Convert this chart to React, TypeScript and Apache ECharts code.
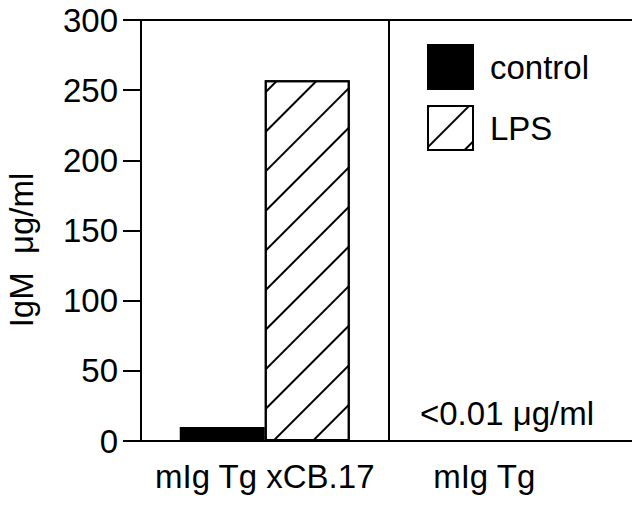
import React, { useEffect, useRef } from "react";
import * as echarts from "echarts";

const categories = ["mIg Tg xCB.17", "mIg Tg"];
const controlValues = [10, null];
const lpsValues = [257, null];
const yTicks = { min: 0, max: 300, interval: 50 };
const yAxisTitle = "IgM  \u03bcg/ml";
const noteText = "<0.01 \u03bcg/ml";

const FONT = "'Liberation Sans', Arial, Helvetica, sans-serif";
const FS = 33;

export default function App() {
  const ref = useRef<HTMLDivElement>(null);
  useEffect(() => {
    if (!ref.current) return;
    const chart = echarts.init(ref.current, null, { renderer: "svg" });
    chart.setOption({
      animation: false,
      backgroundColor: "#fff",
      textStyle: { fontFamily: FONT, color: "#000" },
      grid: {
        left: 141,
        right: 4,
        top: 20,
        bottom: 66,
        show: true,
        borderColor: "#000",
        borderWidth: 2,
      },
      legend: {
        orient: "vertical",
        left: 427,
        top: 44,
        padding: 0,
        itemWidth: 45,
        itemHeight: 44,
        itemGap: 15,
        icon: "rect",
        textStyle: { fontSize: FS, fontFamily: FONT, color: "#000", padding: [0, 0, 0, 12] },
        data: ["control", "LPS"],
      },
      xAxis: {
        type: "category",
        data: [
          categories[0],
          { value: categories[1], textStyle: { padding: [0, 56, 0, 0] } },
        ],
        axisLine: { show: true, lineStyle: { color: "#000", width: 2 } },
        axisTick: { show: false },
        splitLine: { show: true, interval: 0, lineStyle: { color: "#000", width: 2 } },
        axisLabel: { interval: 0, fontSize: FS, color: "#000", margin: 19, fontFamily: FONT },
      },
      yAxis: {
        type: "value",
        min: yTicks.min,
        max: yTicks.max,
        interval: yTicks.interval,
        axisLine: { show: true, lineStyle: { color: "#000", width: 2 } },
        axisTick: { show: true, length: 18, lineStyle: { color: "#000", width: 2 } },
        splitLine: { show: false },
        axisLabel: { fontSize: FS, color: "#000", margin: 23, fontFamily: FONT },
      },
      series: [
        {
          name: "control",
          type: "bar",
          data: controlValues,
          barWidth: 85,
          barGap: "0%",
          itemStyle: { color: "#000", borderColor: "#000", borderWidth: 2 },
        },
        {
          name: "LPS",
          type: "bar",
          data: lpsValues,
          barWidth: 85,
          barGap: "0%",
          itemStyle: {
            color: "#fff",
            borderColor: "#000",
            borderWidth: 2,
            decal: {
              symbol: "rect",
              symbolSize: 1,
              color: "#000",
              dashArrayX: [1, 0],
              dashArrayY: [2, 26],
              rotation: -Math.PI / 4,
            },
          },
        },
      ],
      graphic: [
        {
          type: "text",
          x: 21,
          y: 250,
          rotation: Math.PI / 2,
          style: {
            text: yAxisTitle,
            font: `${FS}px ${FONT}`,
            fill: "#000",
            align: "center",
            verticalAlign: "middle",
          },
        },
        {
          type: "text",
          x: 507,
          y: 413,
          style: {
            text: noteText,
            font: `${FS}px ${FONT}`,
            fill: "#000",
            align: "center",
            verticalAlign: "middle",
          },
        },
      ],
    });
    return () => chart.dispose();
  }, []);
  return <div ref={ref} style={{ width: 640, height: 507, margin: -8 }} />;
}
